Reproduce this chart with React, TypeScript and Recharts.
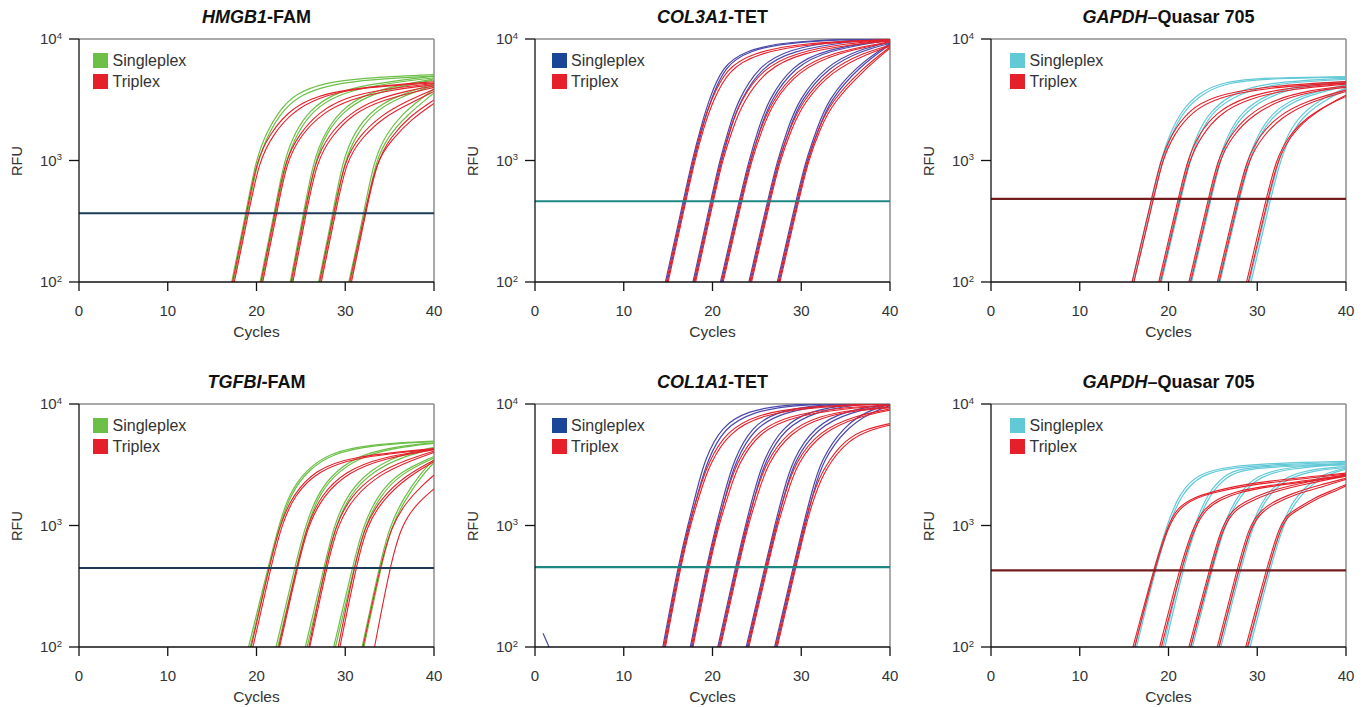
import React from 'react';
import { LineChart, Line, XAxis, YAxis, ReferenceLine } from 'recharts';

type Pt = [number, number];

const CYCLE_TICKS = [0, 10, 20, 30, 40];
const RFU_TICKS = [100, 1000, 10000];
const LEGEND_LABELS = ['Singleplex', 'Triplex'];

// ---------- HMGB1-FAM ----------
const HMGB1_SINGLEPLEX: Pt[][] = [
  [[17.2,100],[18.8,368],[19.9,1000],[21.1,1700],[22.6,2600],[24.4,3550],[27.5,4350],[32,4800],[40,5100]],
  [[17.4,100],[19.0,368],[20.1,1000],[21.4,1700],[23.0,2600],[25.0,3500],[28.5,4250],[33,4650],[40,4950]],
  [[20.4,100],[22.0,368],[23.1,1000],[24.3,1700],[26.0,2600],[28.5,3500],[32,4200],[40,4950]],
  [[20.6,100],[22.2,368],[23.3,1000],[24.6,1700],[26.4,2600],[29,3450],[33,4150],[40,4800]],
  [[23.8,100],[25.3,368],[26.4,1000],[27.7,1700],[29.5,2600],[32,3450],[35.5,4100],[40,4700]],
  [[24.0,100],[25.5,368],[26.6,1000],[27.9,1700],[29.8,2550],[32.5,3400],[36,4050],[40,4600]],
  [[27.0,100],[28.6,368],[29.7,1000],[31.0,1700],[32.9,2550],[35.5,3350],[40,4300]],
  [[27.2,100],[28.8,368],[29.9,1000],[31.3,1650],[33.2,2500],[36,3300],[40,4150]],
  [[30.4,100],[32.1,368],[33.2,1000],[34.6,1650],[36.5,2450],[38.5,3200],[40,3900]],
  [[30.6,100],[32.3,368],[33.4,1000],[34.9,1600],[36.9,2350],[40,3600]],
];
const HMGB1_TRIPLEX: Pt[][] = [
  [[17.3,100],[18.9,368],[20.0,1000],[21.5,1650],[23.5,2500],[26.0,3250],[30,3900],[40,4450]],
  [[17.5,100],[19.1,368],[20.3,1000],[21.9,1650],[24.0,2500],[27.0,3300],[31,3950],[40,4350]],
  [[20.5,100],[22.1,368],[23.2,1000],[24.8,1650],[27,2500],[30,3300],[34,3850],[40,4300]],
  [[20.7,100],[22.3,368],[23.4,1000],[25.1,1650],[27.4,2450],[30.5,3200],[35,3800],[40,4200]],
  [[23.9,100],[25.4,368],[26.6,1000],[28.2,1650],[30.5,2450],[33.5,3200],[37,3750],[40,4100]],
  [[24.1,100],[25.6,368],[26.8,1000],[28.5,1600],[30.8,2400],[34,3150],[40,4000]],
  [[27.1,100],[28.7,368],[29.9,1000],[31.6,1600],[34,2350],[37,3100],[40,3850]],
  [[27.3,100],[28.9,368],[30.1,1000],[31.9,1550],[34.4,2300],[37.5,3000],[40,3700]],
  [[30.5,100],[32.2,368],[33.5,1000],[35.3,1500],[37.5,2200],[40,2950]],
  [[30.7,100],[32.3,368],[33.6,1000],[35.1,1550],[37.2,2300],[40,3150]],
];
const HMGB1_THRESHOLD = 368;

// ---------- COL3A1-TET ----------
const COL3A1_SINGLEPLEX: Pt[][] = [
  [[14.7,100],[16.7,462],[17.7,1000],[18.7,1900],[19.6,3160],[21.1,6000],[23.7,8000],[28,9600],[40,10200]],
  [[14.9,100],[16.9,462],[17.9,1000],[18.9,1900],[19.8,3160],[21.4,6000],[24,8000],[29,9600],[40,10100]],
  [[17.8,100],[19.8,462],[20.8,1000],[21.9,1900],[22.9,3160],[25.2,6000],[28.5,8200],[34,9700],[40,10100]],
  [[18.0,100],[20.0,462],[21.0,1000],[22.1,1900],[23.1,3100],[25.5,5900],[29,8000],[35,9500],[40,10000]],
  [[20.9,100],[23.0,462],[24.1,1000],[25.2,1850],[26.3,3160],[28.9,6000],[32.5,8200],[40,9900]],
  [[21.1,100],[23.2,462],[24.3,1000],[25.4,1850],[26.5,3100],[29.2,5900],[33,8100],[40,9800]],
  [[24.1,100],[26.2,462],[27.3,1000],[28.5,1850],[29.7,3160],[32.7,6000],[36.5,8200],[40,9400]],
  [[24.3,100],[26.4,462],[27.5,1000],[28.7,1850],[29.9,3100],[33,5900],[37,8100],[40,9200]],
  [[27.3,100],[29.4,462],[30.5,1000],[31.8,1850],[33.0,3160],[36.2,6000],[40,9200]],
  [[27.5,100],[29.6,462],[30.7,1000],[32.0,1850],[33.2,3100],[36.5,5900],[40,9000]],
];
const COL3A1_TRIPLEX: Pt[][] = [
  [[14.8,100],[16.8,462],[17.8,1000],[18.8,1900],[19.8,3100],[21.5,5700],[24.5,7700],[30,9300],[40,9900]],
  [[15.0,100],[17.0,462],[18.0,1000],[19.0,1850],[20.0,3050],[21.8,5600],[25,7600],[31,9200],[40,9800]],
  [[17.9,100],[19.9,462],[20.9,1000],[22.0,1850],[23.1,3050],[25.6,5700],[29.5,7800],[35,9200],[40,9800]],
  [[18.1,100],[20.1,462],[21.1,1000],[22.3,1850],[23.4,3000],[26,5600],[30,7700],[36,9100],[40,9600]],
  [[21.0,100],[23.1,462],[24.2,1000],[25.4,1800],[26.6,3000],[29.4,5600],[33.5,7800],[40,9500]],
  [[21.2,100],[23.3,462],[24.4,1000],[25.6,1800],[26.8,3000],[29.7,5500],[34,7700],[40,9400]],
  [[24.2,100],[26.3,462],[27.4,1000],[28.7,1800],[30,3000],[33.2,5600],[37,7700],[40,8900]],
  [[24.4,100],[26.5,462],[27.6,1000],[28.9,1800],[30.2,2950],[33.5,5500],[37.5,7600],[40,8700]],
  [[27.4,100],[29.5,462],[30.6,1000],[31.9,1800],[33.3,3000],[36.7,5600],[40,8600]],
  [[27.6,100],[29.7,462],[30.8,1000],[32.1,1800],[33.5,2950],[37,5500],[40,8400]],
];
const COL3A1_THRESHOLD = 462;

// ---------- GAPDH-Quasar 705 (top) ----------
const GAPDH1_SINGLEPLEX: Pt[][] = [
  [[15.9,100],[18.1,483],[19.1,1000],[20.2,1700],[21.5,2600],[23.4,3580],[26,4450],[31,4800],[40,4900]],
  [[16.1,100],[18.3,483],[19.3,1000],[20.4,1700],[21.8,2600],[23.8,3550],[26.5,4400],[32,4750],[40,4850]],
  [[19.0,100],[21.2,483],[22.2,1000],[23.3,1700],[24.7,2550],[27.2,3580],[31,4400],[40,4750]],
  [[19.2,100],[21.4,483],[22.4,1000],[23.6,1700],[25.0,2550],[27.7,3500],[32,4350],[40,4650]],
  [[22.4,100],[24.6,483],[25.6,1000],[26.8,1700],[28.3,2550],[31,3500],[35,4200],[40,4460]],
  [[22.6,100],[24.8,483],[25.8,1000],[27.0,1700],[28.6,2500],[31.5,3450],[35.5,4150],[40,4400]],
  [[25.6,100],[27.8,483],[28.9,1000],[30.1,1650],[31.7,2500],[34.5,3400],[40,4200]],
  [[25.8,100],[28.0,483],[29.1,1000],[30.3,1650],[32,2450],[35,3350],[40,4100]],
  [[29.1,100],[31.3,483],[32.4,1000],[33.4,1650],[35,2450],[37.5,3300],[40,3950]],
  [[29.3,100],[31.5,483],[32.6,1000],[33.7,1600],[35.3,2400],[38,3250],[40,3850]],
];
const GAPDH1_TRIPLEX: Pt[][] = [
  [[15.9,100],[18.1,483],[19.1,1000],[20.3,1650],[22.3,2600],[24.9,3370],[30.5,4080],[40,4460]],
  [[16.1,100],[18.3,483],[19.3,1000],[20.6,1650],[22.7,2550],[25.5,3300],[31,4000],[40,4350]],
  [[18.9,100],[21.1,483],[22.1,1000],[23.4,1650],[25.4,2500],[28.4,3300],[33,3950],[40,4330]],
  [[19.1,100],[21.3,483],[22.3,1000],[23.7,1600],[25.8,2450],[29,3250],[34,3900],[40,4250]],
  [[22.3,100],[24.5,483],[25.5,1000],[26.9,1600],[29,2400],[32,3200],[36,3800],[40,4100]],
  [[22.5,100],[24.7,483],[25.7,1000],[27.2,1600],[29.4,2350],[32.5,3150],[36.5,3750],[40,4000]],
  [[25.5,100],[27.7,483],[28.8,1000],[30.2,1600],[32.4,2350],[35.5,3100],[40,3800]],
  [[25.7,100],[27.9,483],[29.0,1000],[30.5,1550],[32.8,2300],[36,3050],[40,3700]],
  [[28.8,100],[31.0,483],[32.1,1000],[33.4,1550],[35.5,2250],[38,2900],[40,3370]],
  [[29.0,100],[31.2,483],[32.3,1000],[33.6,1550],[35.7,2250],[38.2,2950],[40,3450]],
];
const GAPDH1_THRESHOLD = 483;

// ---------- TGFBI-FAM ----------
const TGFBI_SINGLEPLEX: Pt[][] = [
  [[19.1,100],[21.3,447],[22.5,1000],[23.7,1850],[25.6,2870],[28.2,3940],[32.4,4640],[40,4950]],
  [[19.3,100],[21.4,447],[22.6,1000],[23.9,1850],[25.8,2850],[28.5,3900],[33,4600],[40,4900]],
  [[22.2,100],[24.3,447],[25.5,1000],[26.9,1850],[29.0,2870],[32,3900],[36,4500],[40,4800]],
  [[22.4,100],[24.5,447],[25.7,1000],[27.1,1850],[29.3,2850],[32.4,3850],[36.5,4450],[40,4750]],
  [[25.5,100],[27.6,447],[28.7,1000],[30.3,1850],[32.8,2870],[36,3800],[40,4400]],
  [[25.7,100],[27.8,447],[28.9,1000],[30.5,1800],[33.1,2800],[36.5,3700],[40,4300]],
  [[28.7,100],[30.8,447],[32.0,1000],[33.7,1800],[36,2750],[40,3700]],
  [[28.9,100],[31.0,447],[32.2,1000],[33.9,1750],[36.3,2700],[40,3600]],
  [[31.9,100],[33.8,447],[35.0,1000],[36.6,1700],[38.5,2700],[40,3500]],
  [[32.1,100],[34.0,447],[35.2,1000],[36.8,1650],[38.6,2550],[40,3300]],
];
const TGFBI_TRIPLEX: Pt[][] = [
  [[19.4,100],[21.4,447],[22.6,1000],[24.1,1800],[26.6,2850],[30.5,3700],[40,4300]],
  [[19.6,100],[21.6,447],[22.8,1000],[24.3,1800],[26.9,2800],[31,3650],[40,4250]],
  [[22.5,100],[24.5,447],[25.7,1000],[27.3,1800],[30,2800],[34,3650],[40,4250]],
  [[22.6,100],[24.6,447],[25.8,1000],[27.5,1750],[30.3,2750],[34.5,3600],[40,4200]],
  [[25.9,100],[27.7,447],[28.9,1000],[30.6,1750],[33.5,2700],[37,3500],[40,4100]],
  [[26.0,100],[27.9,447],[29.1,1000],[30.9,1700],[33.9,2650],[37.5,3450],[40,4000]],
  [[29.2,100],[31.0,447],[32.2,1000],[34.1,1700],[36.7,2550],[40,3450]],
  [[29.4,100],[31.2,447],[32.4,1000],[34.3,1650],[37,2500],[40,3350]],
  [[32.0,100],[33.9,447],[35.2,1000],[37.0,1600],[38.7,2150],[40,2600]],
  [[33.3,100],[35.0,447],[36.3,1000],[38,1500],[40,2000]],
];
const TGFBI_THRESHOLD = 447;

// ---------- COL1A1-TET ----------
const COL1A1_SINGLEPLEX: Pt[][] = [
  [[0.9,130],[1.8,92]],
  [[14.4,100],[16.1,455],[17.2,1000],[18.2,1900],[19.1,3470],[21.0,6600],[24,8800],[28.3,10000],[40,10500]],
  [[14.6,100],[16.3,455],[17.4,1000],[18.4,1900],[19.4,3400],[21.3,6400],[24.5,8600],[29,9900],[40,10400]],
  [[17.5,100],[19.3,455],[20.4,1000],[21.4,1900],[22.4,3470],[24.4,6600],[27.5,8800],[32.4,10000],[40,10400]],
  [[17.7,100],[19.5,455],[20.6,1000],[21.6,1900],[22.6,3400],[24.7,6400],[28,8600],[33,9900],[40,10300]],
  [[20.6,100],[22.6,455],[23.7,1000],[24.7,1900],[25.7,3470],[27.9,6600],[31,8800],[35.6,10000],[40,10300]],
  [[20.8,100],[22.8,455],[23.9,1000],[24.9,1900],[25.9,3400],[28.2,6400],[31.5,8600],[36,9900],[40,10200]],
  [[23.8,100],[25.9,455],[27.0,1000],[28.0,1900],[29.0,3470],[31.5,6600],[35,8800],[39.5,10000],[40,10100]],
  [[24.0,100],[26.1,455],[27.2,1000],[28.2,1900],[29.2,3400],[31.8,6400],[35.5,8600],[40,9900]],
  [[27.0,100],[29.1,455],[30.2,1000],[31.2,1900],[32.2,3470],[34.8,6600],[37.5,8800],[40,10000]],
  [[27.2,100],[29.3,455],[30.4,1000],[31.4,1900],[32.4,3400],[35.1,6400],[38,8600],[40,9700]],
];
const COL1A1_TRIPLEX: Pt[][] = [
  [[14.5,100],[16.2,455],[17.3,1000],[18.4,1850],[19.5,3300],[21.6,6000],[25,8200],[30,9500],[40,10200]],
  [[14.7,100],[16.4,455],[17.5,1000],[18.6,1850],[19.7,3250],[21.9,5900],[25.5,8100],[31,9400],[40,10000]],
  [[17.6,100],[19.4,455],[20.5,1000],[21.6,1850],[22.7,3300],[25,6000],[28.5,8000],[34,9300],[40,9800]],
  [[17.8,100],[19.6,455],[20.7,1000],[21.8,1800],[22.9,3250],[25.3,5900],[29,7900],[35,9200],[40,9700]],
  [[20.7,100],[22.7,455],[23.8,1000],[24.9,1850],[26,3300],[28.5,6000],[32,8000],[36,9000],[40,9400]],
  [[20.9,100],[22.9,455],[24.0,1000],[25.1,1800],[26.2,3250],[28.8,5900],[32.5,7900],[36.5,8900],[40,9300]],
  [[23.9,100],[26.0,455],[27.1,1000],[28.2,1850],[29.3,3300],[32,6000],[36,8000],[40,9100]],
  [[24.1,100],[26.2,455],[27.3,1000],[28.4,1800],[29.5,3250],[32.3,5900],[36.5,7900],[40,8900]],
  [[27.1,100],[29.2,455],[30.3,1000],[31.3,1800],[32.5,3000],[35,5200],[37.5,6300],[40,6900]],
  [[27.3,100],[29.4,455],[30.5,1000],[31.5,1750],[32.7,2950],[35.3,5100],[38,6200],[40,6700]],
];
const COL1A1_THRESHOLD = 455;

// ---------- GAPDH-Quasar 705 (bottom) ----------
const GAPDH2_SINGLEPLEX: Pt[][] = [
  [[16.2,100],[18.3,428],[19.8,1000],[21.2,1850],[23.4,2700],[26.8,3060],[32,3270],[40,3370]],
  [[16.4,100],[18.5,428],[20.0,1000],[21.4,1800],[23.7,2650],[27,3000],[33,3200],[40,3300]],
  [[19.4,100],[21.4,428],[22.9,1000],[24.4,1850],[26.3,2600],[28,2950],[33,3150],[40,3200]],
  [[19.6,100],[21.6,428],[23.1,1000],[24.6,1800],[26.6,2550],[28.4,2900],[34,3100],[40,3150]],
  [[22.5,100],[24.7,428],[26.1,1000],[27.9,1850],[30,2600],[33,3000],[40,3270]],
  [[22.7,100],[24.9,428],[26.3,1000],[28.1,1800],[30.3,2550],[33.5,2950],[40,3200]],
  [[25.7,100],[27.9,428],[29.3,1000],[30.8,1750],[33,2500],[36,2900],[40,3060]],
  [[25.9,100],[28.1,428],[29.5,1000],[31,1700],[33.3,2450],[36.5,2850],[40,3000]],
  [[29.0,100],[31.2,428],[32.7,1000],[34,1600],[36,2300],[38,2750],[40,2970]],
  [[29.2,100],[31.4,428],[32.9,1000],[34.2,1550],[36.3,2250],[38.3,2700],[40,2900]],
];
const GAPDH2_TRIPLEX: Pt[][] = [
  [[16.0,100],[18.3,428],[19.9,1000],[21.0,1400],[22.8,1700],[25,1900],[29,2250],[40,2700]],
  [[16.2,100],[18.4,428],[20.0,1000],[21.2,1380],[23,1680],[25.3,1880],[29.5,2200],[40,2650]],
  [[19.0,100],[21.2,428],[22.8,1000],[24.1,1400],[25.5,1650],[27.5,1900],[30.5,2100],[40,2600]],
  [[19.2,100],[21.4,428],[23.0,1000],[24.3,1380],[25.8,1630],[28,1880],[31,2080],[40,2550]],
  [[22.3,100],[24.6,428],[26.0,1000],[27.3,1350],[28.3,1530],[31,1900],[35,2250],[40,2600]],
  [[22.5,100],[24.8,428],[26.2,1000],[27.5,1330],[28.6,1500],[31.4,1870],[35.5,2200],[40,2550]],
  [[25.5,100],[27.7,428],[29.1,1000],[30.3,1300],[31.5,1530],[34,1850],[37,2150],[40,2450]],
  [[25.7,100],[27.9,428],[29.3,1000],[30.5,1280],[31.8,1500],[34.4,1820],[37.5,2100],[40,2400]],
  [[28.7,100],[31.0,428],[32.5,1000],[33.5,1250],[34.3,1350],[36.5,1700],[38.5,1950],[40,2170]],
  [[28.9,100],[31.2,428],[32.7,1000],[33.7,1230],[34.5,1330],[36.8,1680],[38.8,1920],[40,2120]],
];
const GAPDH2_THRESHOLD = 428;

const FONT = '"Liberation Sans", Arial, Helvetica, sans-serif';
const GREEN = '#6cbf47';
const RED = '#e5202a';
const BLUE_SWATCH = '#1b4597';
const BLUE_LINE = '#4a48aa';
const CYAN = '#62c9d7';
const TH_NAVY = '#1d3a57';
const TH_TEAL = '#1c8783';
const TH_MAROON = '#741c1e';

interface PanelCfg {
  italic: string;
  rest: string;
  singles: Pt[][];
  triplex: Pt[][];
  threshold: number;
  singleColor: string;
  singleSwatch: string;
  thColor: string;
  left: number;
  top: number;
  legendDx: number;
}

const PANELS: PanelCfg[] = [
  { italic: 'HMGB1', rest: '-FAM', singles: HMGB1_SINGLEPLEX, triplex: HMGB1_TRIPLEX, threshold: HMGB1_THRESHOLD, singleColor: GREEN, singleSwatch: GREEN, thColor: TH_NAVY, left: 0, top: 0, legendDx: 14 },
  { italic: 'COL3A1', rest: '-TET', singles: COL3A1_SINGLEPLEX, triplex: COL3A1_TRIPLEX, threshold: COL3A1_THRESHOLD, singleColor: BLUE_LINE, singleSwatch: BLUE_SWATCH, thColor: TH_TEAL, left: 456, top: 0, legendDx: 16.5 },
  { italic: 'GAPDH', rest: '\u2013Quasar 705', singles: GAPDH1_SINGLEPLEX, triplex: GAPDH1_TRIPLEX, threshold: GAPDH1_THRESHOLD, singleColor: CYAN, singleSwatch: CYAN, thColor: TH_MAROON, left: 912, top: 0, legendDx: 19 },
  { italic: 'TGFBI', rest: '-FAM', singles: TGFBI_SINGLEPLEX, triplex: TGFBI_TRIPLEX, threshold: TGFBI_THRESHOLD, singleColor: GREEN, singleSwatch: GREEN, thColor: TH_NAVY, left: 0, top: 365, legendDx: 14 },
  { italic: 'COL1A1', rest: '-TET', singles: COL1A1_SINGLEPLEX, triplex: COL1A1_TRIPLEX, threshold: COL1A1_THRESHOLD, singleColor: BLUE_LINE, singleSwatch: BLUE_SWATCH, thColor: TH_TEAL, left: 456, top: 365, legendDx: 16.5 },
  { italic: 'GAPDH', rest: '\u2013Quasar 705', singles: GAPDH2_SINGLEPLEX, triplex: GAPDH2_TRIPLEX, threshold: GAPDH2_THRESHOLD, singleColor: CYAN, singleSwatch: CYAN, thColor: TH_MAROON, left: 912, top: 365, legendDx: 19 },
];

const toXY = (c: Pt[]) => c.map(([x, y]) => ({ x, y }));

const PowerTick = (props: any) => {
  const { x, y, payload } = props;
  const exp = Math.round(Math.log10(payload.value));
  return (
    <text x={x} y={y} textAnchor="end" fontSize={15} fill="#333" fontFamily={FONT} dy={5.4}>
      10<tspan fontSize={9.5} dy={-5.5}>{exp}</tspan>
    </text>
  );
};

const W = 456;
const H = 350;
const PL = 79; // plot left inside panel
const PT = 39; // plot top inside panel
const PW = 355;
const PH = 243;

const Panel = ({ cfg }: { cfg: PanelCfg }) => {
  return (
    <div style={{ position: 'absolute', left: cfg.left, top: cfg.top, width: W, height: H, fontFamily: FONT }}>
      <LineChart width={W} height={H} margin={{ top: PT, right: W - PL - PW, bottom: H - PT - PH - 30, left: PL - 50 }}>
        <XAxis
          type="number"
          dataKey="x"
          domain={[0, 40]}
          ticks={CYCLE_TICKS}
          allowDataOverflow
          height={30}
          tickSize={9}
          tickMargin={14}
          tick={{ fontSize: 15, fill: '#333', fontFamily: FONT }}
          axisLine={{ stroke: '#111', strokeWidth: 1.3 }}
          tickLine={{ stroke: '#111', strokeWidth: 1.3 }}
        />
        <YAxis
          type="number"
          scale="log"
          domain={[100, 10000]}
          ticks={RFU_TICKS}
          allowDataOverflow
          width={50}
          tickSize={10}
          tickMargin={7}
          tick={(p: any) => <PowerTick {...p} />}
          axisLine={{ stroke: '#111', strokeWidth: 1.3 }}
          tickLine={{ stroke: '#111', strokeWidth: 1.3 }}
        />
        <ReferenceLine y={10000} stroke="#8c8c8c" strokeWidth={1.5} />
        <ReferenceLine x={40} stroke="#8c8c8c" strokeWidth={1.5} />
        {cfg.singles.map((c, i) => (
          <Line
            key={'s' + i}
            data={toXY(c)}
            dataKey="y"
            type="basis"
            stroke={cfg.singleColor}
            strokeWidth={1.2}
            dot={false}
            activeDot={false}
            isAnimationActive={false}
          />
        ))}
        {cfg.triplex.map((c, i) => (
          <Line
            key={'t' + i}
            data={toXY(c)}
            dataKey="y"
            type="basis"
            stroke={RED}
            strokeWidth={1.1}
            dot={false}
            activeDot={false}
            isAnimationActive={false}
          />
        ))}
        <ReferenceLine y={cfg.threshold} stroke={cfg.thColor} strokeWidth={2.2} />
      </LineChart>
      <div
        style={{
          position: 'absolute', left: PL, top: 6, width: PW, height: 22, lineHeight: '22px',
          textAlign: 'center', fontWeight: 700, fontSize: 18, color: '#111', whiteSpace: 'nowrap',
        }}
      >
        <i>{cfg.italic}</i>{cfg.rest}
      </div>
      <div
        style={{
          position: 'absolute', left: PL, top: PT + PH + 39, width: PW, height: 22, lineHeight: '22px',
          textAlign: 'center', fontSize: 15.5, color: '#333',
        }}
      >
        Cycles
      </div>
      <div
        style={{
          position: 'absolute', left: 17.3 - 30, top: PT + PH / 2 - 11, width: 60, height: 22, lineHeight: '22px',
          textAlign: 'center', fontSize: 14.5, color: '#333', transform: 'rotate(-90deg)',
        }}
      >
        RFU
      </div>
      {LEGEND_LABELS.map((label, i) => (
        <div
          key={label}
          style={{ position: 'absolute', left: PL + cfg.legendDx, top: PT + 14 + i * 21, height: 15, display: 'flex', alignItems: 'center' }}
        >
          <div style={{ width: 15, height: 15, background: i === 0 ? cfg.singleSwatch : RED }} />
          <span style={{ marginLeft: 4.5, fontSize: 16, color: '#333', lineHeight: '15px', whiteSpace: 'nowrap' }}>{label}</span>
        </div>
      ))}
    </div>
  );
};

export default function App() {
  return (
    <div style={{ position: 'absolute', left: 0, top: 0, width: 1369, height: 707, background: '#fff' }}>
      {PANELS.map((cfg, i) => (
        <Panel key={i} cfg={cfg} />
      ))}
    </div>
  );
}
